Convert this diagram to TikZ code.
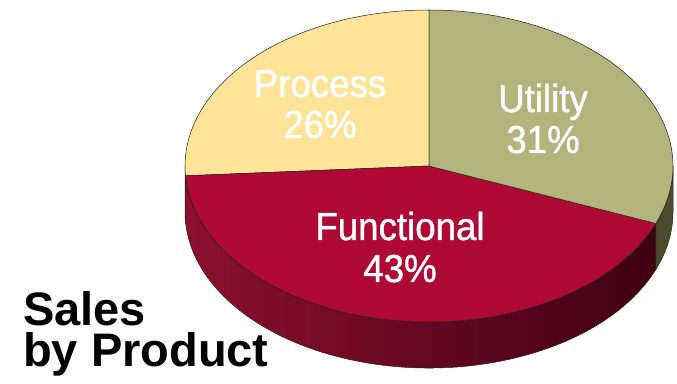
\documentclass[tikz,border=0pt]{standalone}
\usepackage{fontspec}
\setmainfont{Liberation Sans}
\newfontfamily\slicefont[FakeStretch=0.94, FakeBold=1]{Liberation Sans}

\definecolor{processtop}{RGB}{254,228,152}
\definecolor{utilitytop}{RGB}{177,181,124}
\definecolor{functop}{RGB}{175,9,56}
\definecolor{funcsideL}{RGB}{140,16,50}
\definecolor{funcsideR}{RGB}{62,0,20}
\definecolor{utilityside}{RGB}{74,74,44}
\definecolor{processside}{RGB}{120,100,60}
\definecolor{pieline}{RGB}{45,30,25}

\def\rx{244}
\def\ry{156}
\def\dz{46}

\begin{document}
\begin{tikzpicture}[x=1pt, y=1pt,
    slicetext/.style={text=white, font=\slicefont\fontsize{39}{42}\selectfont, anchor=base, inner sep=0pt},
    titletext/.style={text=black, font=\fontsize{47}{40}\selectfont\bfseries, anchor=base west, inner sep=0pt},
    rimline/.style={draw=pieline, line width=0.5pt}]
  \useasboundingbox (0,0) rectangle (677,383);
  \coordinate (top) at (429,217);

  % sides of the pie
  \path[rimline, fill=processside] (top) ++({\rx*cos(180)},{\ry*sin(180)})
    arc[start angle=180, end angle=183.6, x radius=\rx, y radius=\ry] -- ++(0,-\dz)
    arc[start angle=183.6, end angle=180, x radius=\rx, y radius=\ry] -- cycle;
  \path[rimline, left color=funcsideL, right color=funcsideR] (top) ++({\rx*cos(183.6)},{\ry*sin(183.6)})
    arc[start angle=183.6, end angle=338.4, x radius=\rx, y radius=\ry] -- ++(0,-\dz)
    arc[start angle=338.4, end angle=183.6, x radius=\rx, y radius=\ry] -- cycle;
  \path[rimline, fill=utilityside] (top) ++({\rx*cos(338.4)},{\ry*sin(338.4)})
    arc[start angle=338.4, end angle=360, x radius=\rx, y radius=\ry] -- ++(0,-\dz)
    arc[start angle=360, end angle=338.4, x radius=\rx, y radius=\ry] -- cycle;

  % top of the pie
  \filldraw[rimline, fill=processtop] (top) -- ++(0,\ry)
    arc[start angle=90, end angle=183.6, x radius=\rx, y radius=\ry] -- cycle;
  \filldraw[rimline, fill=functop] (top) -- ++({\rx*cos(183.6)},{\ry*sin(183.6)})
    arc[start angle=183.6, end angle=338.4, x radius=\rx, y radius=\ry] -- cycle;
  \filldraw[rimline, fill=utilitytop] (top) -- ++({\rx*cos(338.4)},{\ry*sin(338.4)})
    arc[start angle=338.4, end angle=450, x radius=\rx, y radius=\ry] -- cycle;

  % slice labels
  \node[slicetext] (process) at (320,286) {Process};
  \node[slicetext] (processpct) at (320,245) {26\%};
  \node[slicetext] (utility) at (543,271) {Utility};
  \node[slicetext] (utilitypct) at (543,230) {31\%};
  \node[slicetext] (functional) at (400,143) {Functional};
  \node[slicetext] (functionalpct) at (400,101) {43\%};

  % title
  \node[titletext] (sales) at (23,58) {Sales};
  \node[titletext] (byproduct) at (23,17) {by Product};
\end{tikzpicture}
\end{document}
